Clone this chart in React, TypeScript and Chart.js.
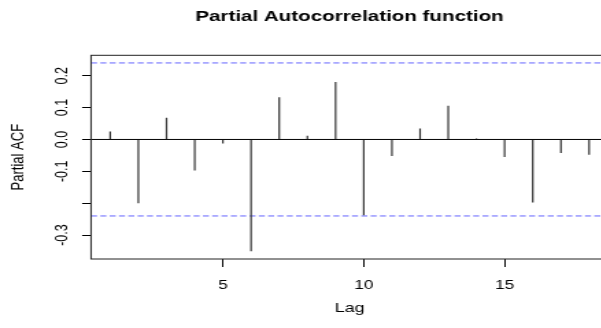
import React, { useEffect, useRef } from 'react';
import { Chart, registerables } from 'chart.js';

Chart.register(...registerables);

// ---- data ----
const lags = [1, 2, 3, 4, 5, 6, 7, 8, 9, 10, 11, 12, 13, 14, 15, 16, 17, 18];
const pacf = [0.025, -0.2, 0.068, -0.097, -0.0125, -0.351, 0.1325, 0.0115, 0.18, -0.238, -0.052, 0.034, 0.106, 0.003, -0.055, -0.198, -0.0425, -0.048];
const ciBound = 0.24;
const xTicks = [5, 10, 15];
const xTickLabels = ['5', '10', '15'];
const yTicks = [-0.3, -0.2, -0.1, 0, 0.1, 0.2];
const yTickLabels = ['-0.3', '', '-0.1', '0.0', '0.1', '0.2'];
const xRange = [0.32, 18.68];
const yRange = [-0.375, 0.264];
const titleText = 'Partial Autocorrelation function';
const xLabel = 'Lag';
const yLabel = 'Partial ACF';

// ---- layout ----
const SX = 1.37; // horizontal stretch of the reference
const CW = 510;
const CH = 328;
const FAMILY = 'Liberation Sans';

const framePlugin = {
  id: 'frame',
  afterDraw(chart: any) {
    const { ctx, chartArea: a } = chart;
    ctx.save();
    ctx.strokeStyle = '#222';
    ctx.lineWidth = 1;
    ctx.strokeRect(a.left, a.top, a.right - a.left, a.bottom - a.top);
    ctx.restore();
  },
};

export default function App() {
  const ref = useRef<HTMLCanvasElement | null>(null);

  useEffect(() => {
    if (!ref.current) return;
    const tickFont = { family: FAMILY, size: 12.5 };
    const labFont = { family: FAMILY, size: 13 };
    const chart = new Chart(ref.current, {
      type: 'bar',
      data: {
        datasets: [
          {
            type: 'bar',
            data: lags.map((x, i) => ({ x, y: pacf[i] })),
            backgroundColor: '#333',
            borderWidth: 0,
            barThickness: 1.2,
            inflateAmount: 0,
            order: 1,
          } as any,
          {
            type: 'line',
            data: [{ x: xRange[0], y: 0 }, { x: xRange[1], y: 0 }],
            borderColor: '#000',
            borderWidth: 1,
            pointRadius: 0,
            order: 2,
          },
          {
            type: 'line',
            data: [{ x: xRange[0], y: ciBound }, { x: xRange[1], y: ciBound }],
            borderColor: 'rgb(100,100,255)',
            borderWidth: 1,
            borderDash: [4.4, 2.4],
            pointRadius: 0,
            order: 3,
          },
          {
            type: 'line',
            data: [{ x: xRange[0], y: -ciBound }, { x: xRange[1], y: -ciBound }],
            borderColor: 'rgb(100,100,255)',
            borderWidth: 1,
            borderDash: [4.4, 2.4],
            pointRadius: 0,
            order: 3,
          },
        ],
      },
      options: {
        responsive: false,
        animation: false,
        devicePixelRatio: 1,
        layout: { padding: 0 },
        plugins: {
          legend: { display: false },
          tooltip: { enabled: false },
          title: {
            display: true,
            text: titleText,
            color: '#000',
            font: { family: FAMILY, size: 15, weight: 'bold' },
            padding: { top: 8, bottom: 29.3 },
          },
        },
        scales: {
          x: {
            type: 'linear',
            min: xRange[0],
            max: xRange[1],
            offset: false,
            afterBuildTicks: (s: any) => {
              s.ticks = xTicks.map((v) => ({ value: v }));
            },
            afterFit: (s: any) => {
              s.height = 69;
            },
            grid: { offset: false, drawOnChartArea: false, drawTicks: true, tickLength: 8, color: '#000', tickColor: '#000' },
            border: { display: false },
            ticks: {
              autoSkip: false,
              maxRotation: 0,
              color: '#000',
              font: tickFont,
              padding: 11.5,
              callback: (_v: any, i: number) => xTickLabels[i],
            },
            title: { display: true, text: xLabel, color: '#000', font: labFont, padding: { top: 0, bottom: 11.5 } },
          },
          y: {
            type: 'linear',
            min: yRange[0],
            max: yRange[1],
            afterBuildTicks: (s: any) => {
              s.ticks = yTicks.map((v) => ({ value: v }));
            },
            afterFit: (s: any) => {
              s.width = 91 / SX;
            },
            grid: { drawOnChartArea: false, drawTicks: true, tickLength: 6.5, color: '#000', tickColor: '#000' },
            border: { display: false },
            ticks: {
              autoSkip: false,
              minRotation: 90,
              maxRotation: 90,
              crossAlign: 'center',
              color: '#000',
              font: tickFont,
              padding: 4,
              callback: (_v: any, i: number) => yTickLabels[i],
            },
            title: { display: true, text: yLabel, color: '#000', font: labFont, padding: { top: 5.6, bottom: 0 } },
          },
          yR: {
            type: 'linear',
            position: 'right',
            display: true,
            grid: { display: false, drawTicks: false },
            border: { display: false },
            ticks: { display: false },
            afterFit: (s: any) => {
              s.width = CW - 608 / SX;
            },
          },
        },
      } as any,
      plugins: [framePlugin],
    });
    return () => chart.destroy();
  }, []);

  return (
    <div style={{ position: 'fixed', left: 0, top: 0, width: 601, height: 328, overflow: 'hidden', background: '#fff' }}>
      <canvas
        ref={ref}
        width={CW}
        height={CH}
        style={{ width: `${CW * SX}px`, height: `${CH}px`, display: 'block' }}
      />
    </div>
  );
}
